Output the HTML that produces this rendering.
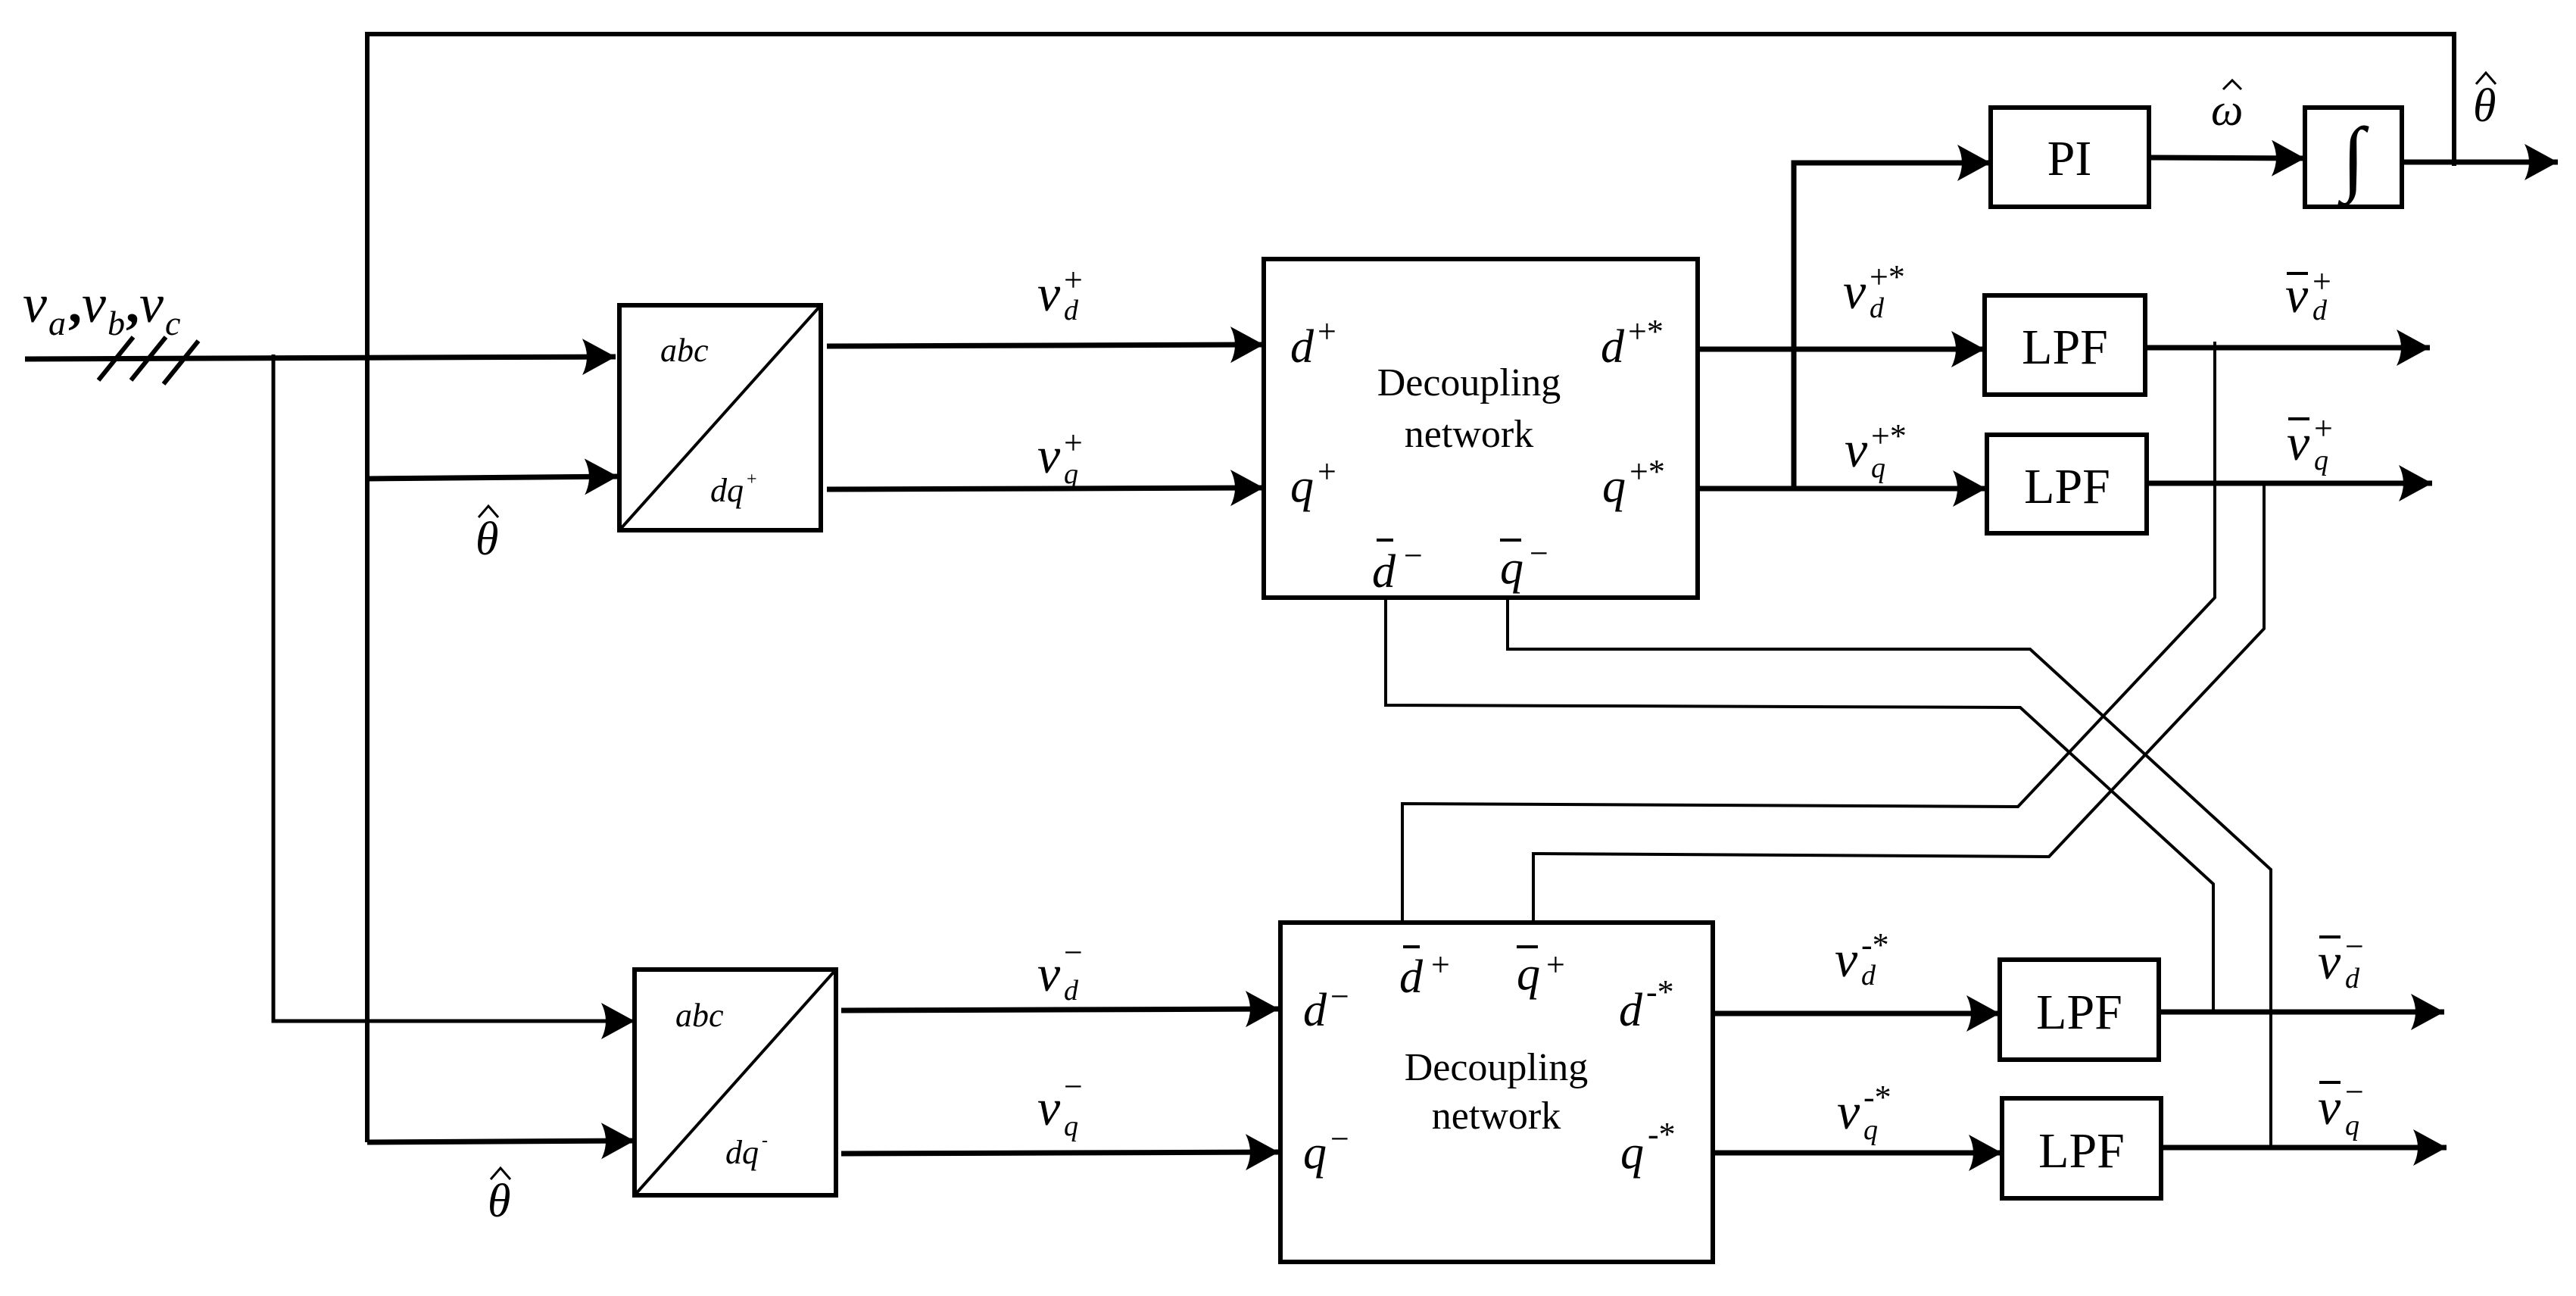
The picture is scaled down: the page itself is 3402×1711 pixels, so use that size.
<!DOCTYPE html>
<html><head><meta charset="utf-8"><style>
html,body{margin:0;padding:0;background:#fff;}
svg{display:block;}
text{font-family:"Liberation Serif",serif;fill:#000;}
.i{font-style:italic;}
</style></head><body>
<svg width="3402" height="1711" viewBox="0 0 3402 1711" xmlns="http://www.w3.org/2000/svg">
<defs>
<marker id="a" markerUnits="userSpaceOnUse" markerWidth="56" markerHeight="56" refX="48" refY="24" orient="auto">
<path d="M48,24 L4,0 Q16,24 4,48 Z" fill="#000"/>
</marker>
</defs>
<g fill="none" stroke="#000" stroke-width="7">
<polyline points="485,1508 485,45 3241,45 3241,219" stroke-width="6"/>
<line x1="33" y1="474" x2="813" y2="471" marker-end="url(#a)"/>
<polyline points="361,468 361,1348 838,1348" stroke-width="5" marker-end="url(#a)"/>
<line x1="485" y1="632" x2="816" y2="629" marker-end="url(#a)"/>
<line x1="485" y1="1508" x2="838" y2="1506" marker-end="url(#a)"/>
<line x1="130" y1="502" x2="176" y2="445" stroke-width="6"/>
<line x1="173" y1="502" x2="219" y2="445" stroke-width="6"/>
<line x1="216" y1="507" x2="262" y2="450" stroke-width="6"/>
<rect x="818" y="403" width="266" height="297" stroke-width="6"/>
<line x1="818" y1="700" x2="1084" y2="403" stroke-width="4"/>
<rect x="838" y="1280" width="266" height="298" stroke-width="6"/>
<line x1="838" y1="1578" x2="1104" y2="1280" stroke-width="4"/>
<line x1="1092" y1="457" x2="1669" y2="455" marker-end="url(#a)"/>
<line x1="1092" y1="646" x2="1669" y2="644" marker-end="url(#a)"/>
<line x1="1111" y1="1334" x2="1689" y2="1332" marker-end="url(#a)"/>
<line x1="1111" y1="1523" x2="1689" y2="1521" marker-end="url(#a)"/>
<rect x="1669" y="342" width="573" height="447" stroke-width="6"/>
<rect x="1691" y="1218" width="571" height="448" stroke-width="6"/>
<line x1="2242" y1="461" x2="2621" y2="461" marker-end="url(#a)"/>
<line x1="2242" y1="645" x2="2623" y2="645" marker-end="url(#a)"/>
<polyline points="2369,645 2369,215 2629,215" marker-end="url(#a)"/>
<rect x="2629" y="142" width="209" height="131" stroke-width="6"/>
<rect x="3044" y="142" width="128" height="131" stroke-width="6"/>
<line x1="2838" y1="208" x2="3044" y2="209" marker-end="url(#a)"/>
<line x1="3172" y1="214" x2="3378" y2="214" marker-end="url(#a)"/>
<rect x="2621" y="390" width="212" height="131" stroke-width="6"/>
<rect x="2624" y="574" width="211" height="130" stroke-width="6"/>
<line x1="2833" y1="459" x2="3209" y2="459" marker-end="url(#a)"/>
<line x1="2835" y1="638" x2="3212" y2="638" marker-end="url(#a)"/>
<rect x="2641" y="1267" width="210" height="132" stroke-width="6"/>
<rect x="2644" y="1450" width="210" height="132" stroke-width="6"/>
<line x1="2262" y1="1338" x2="2641" y2="1338" marker-end="url(#a)"/>
<line x1="2262" y1="1522" x2="2644" y2="1522" marker-end="url(#a)"/>
<line x1="2851" y1="1336" x2="3228" y2="1336" marker-end="url(#a)"/>
<line x1="2854" y1="1515" x2="3231" y2="1515" marker-end="url(#a)"/>
<g stroke-width="4">
<polyline points="2925,451 2925,789 2665,1065 1852,1061 1852,1218"/>
<polyline points="2990,638 2990,830 2706,1131 2025,1127 2025,1218"/>
<polyline points="1830,789 1830,931 2668,934 2923,1167 2923,1336"/>
<polyline points="1991,789 1991,857 2681,857 2999,1148 2999,1515"/>
</g>
<g stroke-width="3">
<polyline points="632,683 645,668 658,683"/>
<polyline points="648,1557 661,1542 674,1557"/>
<polyline points="3270,111 3283,96 3296,111"/>
<polyline points="2936,118 2948,106 2960,118"/>
</g>
</g>
<!-- input label -->
<text class="i" x="30" y="425" font-size="72">v</text><text class="i" x="64" y="442" font-size="46">a</text>
<text x="90" y="425" font-size="72" font-weight="bold">,</text>
<text class="i" x="108" y="425" font-size="72">v</text><text class="i" x="142" y="442" font-size="46">b</text>
<text x="166" y="425" font-size="72" font-weight="bold">,</text>
<text class="i" x="184" y="425" font-size="72">v</text><text class="i" x="218" y="442" font-size="46">c</text>
<!-- abc/dq labels -->
<text class="i" x="872" y="477" font-size="44">abc</text>
<text class="i" x="938" y="662" font-size="44">dq</text><text x="986" y="640" font-size="24">+</text>
<text class="i" x="892" y="1355" font-size="44">abc</text>
<text class="i" x="958" y="1536" font-size="44">dq</text><text x="1006" y="1513" font-size="24">-</text>
<!-- theta hats -->
<text class="i" x="628" y="732" font-size="62">θ</text>
<text class="i" x="644" y="1606" font-size="62">θ</text>
<text class="i" x="3266" y="160" font-size="62">θ</text>
<text class="i" x="2920" y="165" font-size="60">ω</text>
<!-- v labels top -->
<text class="i" x="1370" y="410" font-size="68">v</text><text class="i" x="1405" y="422" font-size="38">d</text><text x="1405" y="384" font-size="44">+</text>
<text class="i" x="1370" y="624" font-size="68">v</text><text class="i" x="1405" y="638" font-size="38">q</text><text x="1405" y="599" font-size="44">+</text>
<text class="i" x="1370" y="1308" font-size="68">v</text><text class="i" x="1405" y="1320" font-size="38">d</text><text x="1405" y="1272" font-size="44">−</text>
<text class="i" x="1370" y="1485" font-size="68">v</text><text class="i" x="1405" y="1499" font-size="38">q</text><text x="1405" y="1449" font-size="44">−</text>
<!-- DN1 -->
<text class="i" x="1704" y="478" font-size="62">d</text><text x="1740" y="452" font-size="44">+</text>
<text class="i" x="2114" y="478" font-size="62">d</text><text x="2150" y="452" font-size="44">+*</text>
<text class="i" x="1704" y="662" font-size="62">q</text><text x="1740" y="637" font-size="44">+</text>
<text class="i" x="2116" y="662" font-size="62">q</text><text x="2152" y="637" font-size="44">+*</text>
<text x="1940" y="522" font-size="52" text-anchor="middle">Decoupling</text>
<text x="1940" y="590" font-size="52" text-anchor="middle">network</text>
<text class="i" x="1812" y="775" font-size="62">d</text><rect x="1818" y="711" width="22" height="4"/><text x="1854" y="748" font-size="44">−</text>
<text class="i" x="1981" y="770" font-size="62">q</text><rect x="1981" y="711" width="28" height="4"/><text x="2020" y="745" font-size="44">−</text>
<!-- DN2 -->
<text class="i" x="1721" y="1354" font-size="62">d</text><text x="1757" y="1330" font-size="44">−</text>
<text class="i" x="2138" y="1354" font-size="62">d</text><text x="2174" y="1324" font-size="44">-*</text>
<text class="i" x="1721" y="1542" font-size="62">q</text><text x="1757" y="1518" font-size="44">−</text>
<text class="i" x="2140" y="1542" font-size="62">q</text><text x="2176" y="1512" font-size="44">-*</text>
<text x="1976" y="1426" font-size="52" text-anchor="middle">Decoupling</text>
<text x="1976" y="1490" font-size="52" text-anchor="middle">network</text>
<text class="i" x="1848" y="1310" font-size="62">d</text><rect x="1853" y="1248" width="22" height="4"/><text x="1890" y="1288" font-size="44">+</text>
<text class="i" x="2003" y="1306" font-size="62">q</text><rect x="2003" y="1248" width="28" height="4"/><text x="2042" y="1288" font-size="44">+</text>
<!-- starred v -->
<text class="i" x="2434" y="407" font-size="68">v</text><text class="i" x="2469" y="419" font-size="38">d</text><text x="2469" y="380" font-size="44">+*</text>
<text class="i" x="2436" y="616" font-size="68">v</text><text class="i" x="2471" y="630" font-size="38">q</text><text x="2471" y="590" font-size="44">+*</text>
<text class="i" x="2423" y="1289" font-size="68">v</text><text class="i" x="2458" y="1300" font-size="38">d</text><text x="2458" y="1262" font-size="44">-*</text>
<text class="i" x="2426" y="1490" font-size="68">v</text><text class="i" x="2461" y="1504" font-size="38">q</text><text x="2461" y="1463" font-size="44">-*</text>
<!-- bar v -->
<text class="i" x="3018" y="412" font-size="68">v</text><rect x="3020" y="359" width="28" height="4"/><text class="i" x="3054" y="422" font-size="38">d</text><text x="3054" y="386" font-size="44">+</text>
<text class="i" x="3020" y="607" font-size="68">v</text><rect x="3022" y="551" width="28" height="4"/><text class="i" x="3056" y="620" font-size="38">q</text><text x="3056" y="580" font-size="44">+</text>
<text class="i" x="3061" y="1292" font-size="68">v</text><rect x="3063" y="1235" width="28" height="4"/><text class="i" x="3097" y="1304" font-size="38">d</text><text x="3097" y="1264" font-size="44">−</text>
<text class="i" x="3061" y="1484" font-size="68">v</text><rect x="3063" y="1427" width="28" height="4"/><text class="i" x="3097" y="1498" font-size="38">q</text><text x="3097" y="1456" font-size="44">−</text>
<!-- blocks -->
<text x="2733" y="231" font-size="66" text-anchor="middle">PI</text>
<text class="i" x="3108" y="244" font-size="110" text-anchor="middle">∫</text>
<text x="2727" y="480" font-size="66" text-anchor="middle">LPF</text>
<text x="2730" y="664" font-size="66" text-anchor="middle">LPF</text>
<text x="2746" y="1358" font-size="66" text-anchor="middle">LPF</text>
<text x="2749" y="1541" font-size="66" text-anchor="middle">LPF</text>
</svg>
</body></html>
